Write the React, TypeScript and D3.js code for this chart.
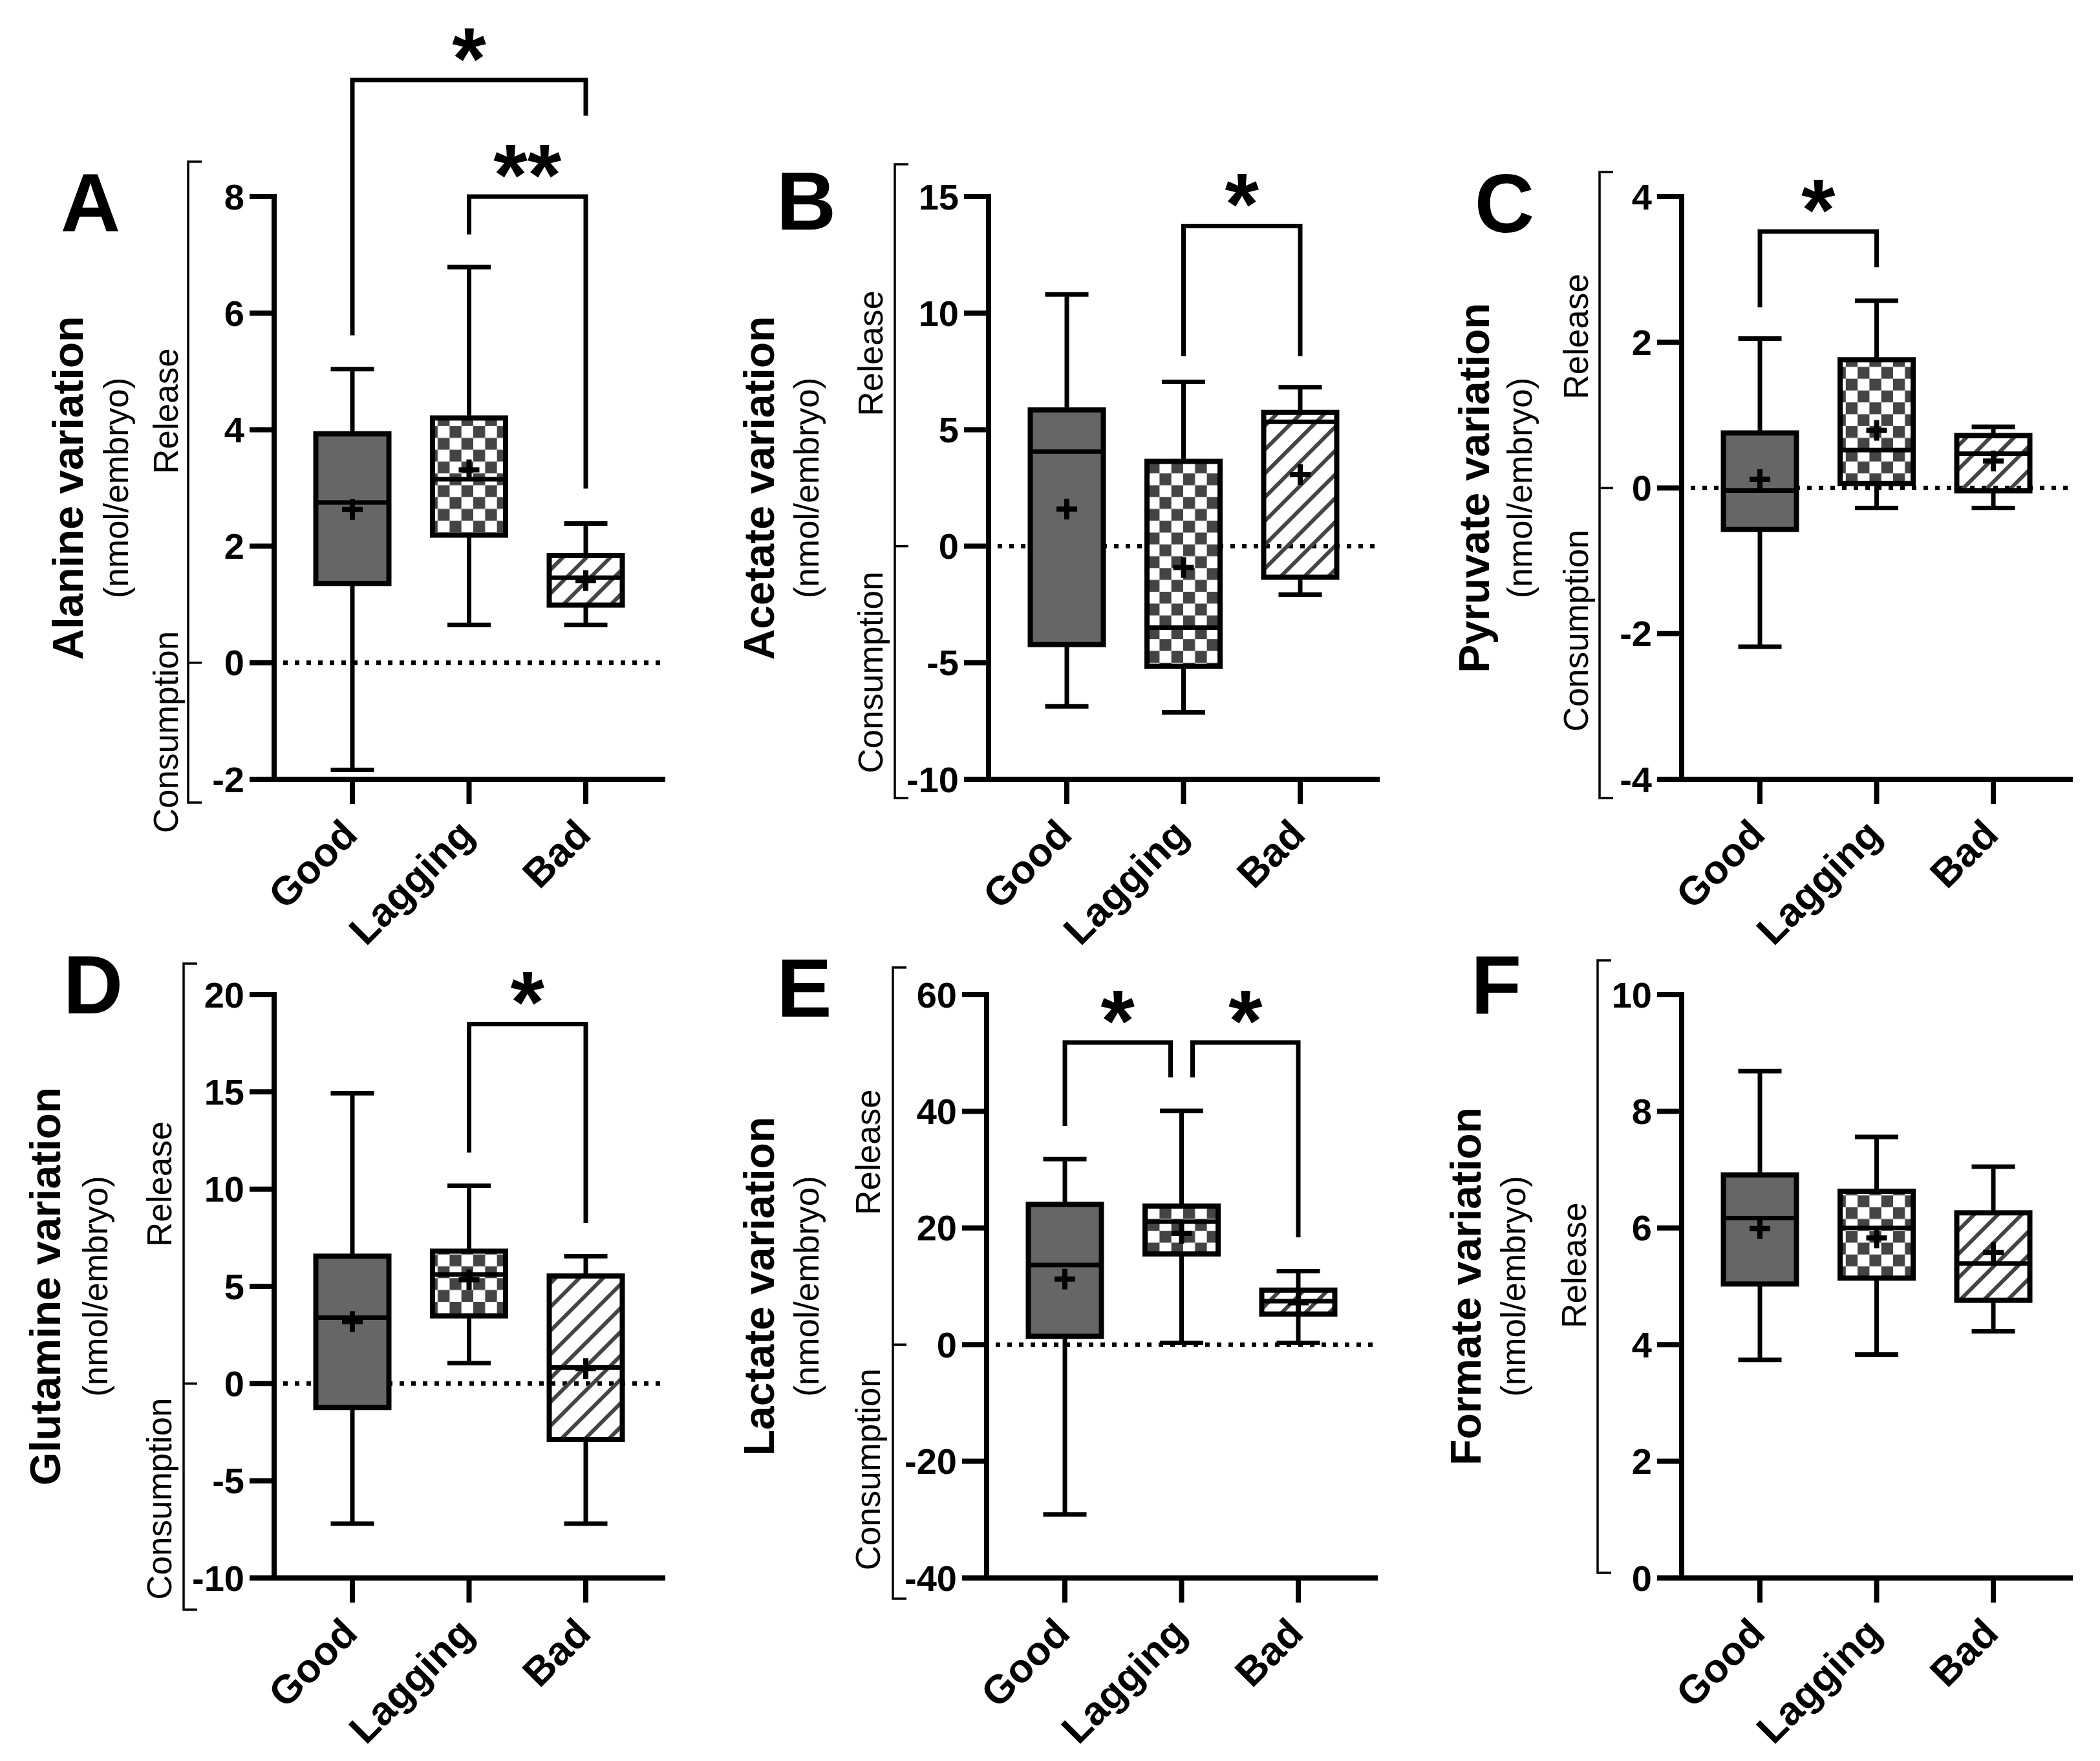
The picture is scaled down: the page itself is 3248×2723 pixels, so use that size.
import * as d3 from "d3"

const W = 3248
const H = 2723
const FONT = "Liberation Sans, Arial, Helvetica, sans-serif"

const groups = ["Good", "Lagging", "Bad"]

// per group: [min, q1, median, q3, max, mean]
const alanine = [
  [-1.84, 1.36, 2.75, 3.93, 5.04, 2.63],
  [0.65, 2.19, 3.15, 4.2, 6.79, 3.31],
  [0.65, 0.99, 1.46, 1.84, 2.39, 1.41],
]
const acetate = [
  [-6.87, -4.22, 4.06, 5.85, 10.8, 1.59],
  [-7.13, -5.15, -3.49, 3.64, 7.05, -0.91],
  [-2.08, -1.33, 5.34, 5.74, 6.82, 3.07],
]
const pyruvate = [
  [-2.18, -0.57, -0.035, 0.755, 2.05, 0.12],
  [-0.275, 0.06, 0.52, 1.76, 2.57, 0.79],
  [-0.275, -0.04, 0.47, 0.72, 0.84, 0.37],
]
const glutamine = [
  [-7.21, -1.23, 3.39, 6.55, 14.93, 3.19],
  [1.05, 3.48, 5.61, 6.81, 10.17, 5.33],
  [-7.21, -2.88, 0.83, 5.53, 6.55, 0.77],
]
const lactate = [
  [-29.1, 1.43, 13.65, 24.05, 31.8, 11.26],
  [0.29, 15.55, 21.09, 23.76, 40.08, 19.08],
  [0.29, 5.25, 7.44, 9.35, 12.6, 7.16],
]
const formate = [
  [3.74, 5.04, 6.17, 6.91, 8.69, 5.99],
  [3.83, 5.14, 6.0, 6.63, 7.56, 5.83],
  [4.23, 4.76, 5.39, 6.26, 7.05, 5.58],
]

const alanineTicks = [-2, 0, 2, 4, 6, 8]
const acetateTicks = [-10, -5, 0, 5, 10, 15]
const pyruvateTicks = [-4, -2, 0, 2, 4]
const glutamineTicks = [-10, -5, 0, 5, 10, 15, 20]
const lactateTicks = [-40, -20, 0, 20, 40, 60]
const formateTicks = [0, 2, 4, 6, 8, 10]

// significance: [fromGroup, toGroup, barValue, leftLegEnd, rightLegEnd, label]
const alanineSig = [
  [0, 2, 10, 5.62, 9.39, "*"],
  [1, 2, 8, 7.35, 2.99, "**"],
]
const acetateSig = [[1, 2, 13.74, 8.15, 8.15, "*"]]
const pyruvateSig = [[0, 1, 3.52, 2.48, 3.03, "*"]]
const glutamineSig = [[1, 2, 18.49, 11.88, 8.26, "*"]]
const lactateSig = [
  [0, 1, 51.8, 37.5, 45.8, "*"],
  [1, 2, 51.8, 45.8, 18.4, "*"],
]
const formateSig: any[] = []

const panels = [
  { letter: "A", title: "Alanine variation", stats: alanine, ticks: alanineTicks, sig: alanineSig, release: 4.32, consumption: -1.19 },
  { letter: "B", title: "Acetate variation", stats: acetate, ticks: acetateTicks, sig: acetateSig, release: 8.28, consumption: -5.41 },
  { letter: "C", title: "Pyruvate variation", stats: pyruvate, ticks: pyruvateTicks, sig: pyruvateSig, release: 2.08, consumption: -1.96 },
  { letter: "D", title: "Glutamine variation", stats: glutamine, ticks: glutamineTicks, sig: glutamineSig, release: 10.26, consumption: -5.93 },
  { letter: "E", title: "Lactate variation", stats: lactate, ticks: lactateTicks, sig: lactateSig, release: 33.0, consumption: -21.4 },
  { letter: "F", title: "Formate variation", stats: formate, ticks: formateTicks, sig: formateSig, release: 5.36, consumption: null },
]

// page layout of each panel (pixels)
const layout = [
  { x0: 424, top: 304, bottom: 1205, titleDx: -319, unitsDx: -245, sideDx: -168, brDx: -133, brTop: 250, brBottom: 1241, letterDx: -284, letterDy: 8 },
  { x0: 1529, top: 304, bottom: 1205, titleDx: -355, unitsDx: -282, sideDx: -183, brDx: -145, brTop: 254, brBottom: 1234, letterDx: -282, letterDy: 5 },
  { x0: 2601, top: 304, bottom: 1205, titleDx: -321, unitsDx: -251, sideDx: -164, brDx: -127, brTop: 266, brBottom: 1234, letterDx: -274, letterDy: 9 },
  { x0: 424, top: 1538, bottom: 2440, titleDx: -354, unitsDx: -277, sideDx: -178, brDx: -140, brTop: 1490, brBottom: 2489, letterDx: -280, letterDy: -17 },
  { x0: 1526, top: 1538, bottom: 2440, titleDx: -352, unitsDx: -279, sideDx: -184, brDx: -145, brTop: 1496, brBottom: 2472, letterDx: -282, letterDy: -12 },
  { x0: 2601, top: 1538, bottom: 2440, titleDx: -334, unitsDx: -261, sideDx: -167, brDx: -130, brTop: 1485, brBottom: 2432, letterDx: -287, letterDy: -17 },
]

const fills = ["#666666", "url(#checker)", "url(#hatch)"]

function Panel({ p, l }: { p: any; l: any }) {
  const ticks: number[] = p.ticks
  const y = d3.scaleLinear().domain([ticks[0], ticks[ticks.length - 1]]).range([l.bottom, l.top])
  const x = d3.scalePoint<string>().domain(groups).range([l.x0 + 121, l.x0 + 482])
  const xEnd = l.x0 + 601
  const boxW = 113
  const capW = 67
  const mid = (l.top + l.bottom) / 2
  const hasZero = ticks[0] < 0
  const brX = l.x0 + l.brDx

  return (
    <g>
      {/* panel letter */}
      <text x={l.x0 + l.letterDx} y={l.top + l.letterDy + 46} textAnchor="middle" fontSize={128} fontWeight="bold" fontFamily={FONT}>
        {p.letter}
      </text>

      {/* titles */}
      <text transform={`translate(${l.x0 + l.titleDx},${mid}) rotate(-90)`} textAnchor="middle" dominantBaseline="central" fontSize={66} fontWeight="bold" fontFamily={FONT}>
        {p.title}
      </text>
      <text transform={`translate(${l.x0 + l.unitsDx},${mid}) rotate(-90)`} textAnchor="middle" dominantBaseline="central" fontSize={53} fontFamily={FONT}>
        (nmol/embryo)
      </text>
      <text transform={`translate(${l.x0 + l.sideDx},${y(p.release)}) rotate(-90)`} textAnchor="middle" dominantBaseline="central" fontSize={53} fontFamily={FONT}>
        Release
      </text>
      {p.consumption !== null && (
        <text transform={`translate(${l.x0 + l.sideDx},${y(p.consumption)}) rotate(-90)`} textAnchor="middle" dominantBaseline="central" fontSize={53} fontFamily={FONT}>
          Consumption
        </text>
      )}

      {/* release / consumption bracket */}
      <g stroke="#000" strokeWidth={3.5} fill="none">
        <path d={`M${brX + 21},${l.brTop}H${brX}V${l.brBottom}H${brX + 21}`} />
        {hasZero && <line x1={brX} x2={brX + 21} y1={y(0)} y2={y(0)} />}
      </g>

      {/* zero line */}
      {hasZero && (
        <line x1={l.x0 + 14} x2={xEnd} y1={y(0)} y2={y(0)} stroke="#000" strokeWidth={7} strokeDasharray="7 11" />
      )}

      {/* boxes */}
      {p.stats.map((s: number[], i: number) => {
        const cx = x(groups[i])!
        const [mn, q1, md, q3, mx, mean] = s
        return (
          <g key={i} stroke="#000">
            <line x1={cx} x2={cx} y1={y(mx)} y2={y(q3)} strokeWidth={7} />
            <line x1={cx} x2={cx} y1={y(q1)} y2={y(mn)} strokeWidth={7} />
            <line x1={cx - capW / 2} x2={cx + capW / 2} y1={y(mx)} y2={y(mx)} strokeWidth={7} />
            <line x1={cx - capW / 2} x2={cx + capW / 2} y1={y(mn)} y2={y(mn)} strokeWidth={7} />
            <rect x={cx - boxW / 2} y={y(q3)} width={boxW} height={y(q1) - y(q3)} fill={fills[i]} strokeWidth={8} />
            <line x1={cx - boxW / 2} x2={cx + boxW / 2} y1={y(md)} y2={y(md)} strokeWidth={7} />
            <path d={`M${cx - 16},${y(mean)}H${cx + 16}M${cx},${y(mean) - 16}V${y(mean) + 16}`} strokeWidth={8} />
          </g>
        )
      })}

      {/* axes */}
      <g stroke="#000" strokeWidth={8} strokeLinecap="square">
        <line x1={l.x0} x2={l.x0} y1={l.top} y2={l.bottom} />
        <line x1={l.x0} x2={xEnd} y1={l.bottom} y2={l.bottom} />
        {ticks.map((t) => (
          <line key={t} x1={l.x0 - 38} x2={l.x0} y1={y(t)} y2={y(t)} strokeLinecap="butt" />
        ))}
        {groups.map((g) => (
          <line key={g} x1={x(g)} x2={x(g)} y1={l.bottom} y2={l.bottom + 38} strokeLinecap="butt" />
        ))}
      </g>
      {ticks.map((t) => (
        <text key={t} x={l.x0 - 46} y={y(t)} textAnchor="end" dominantBaseline="central" fontSize={56} fontWeight="bold" fontFamily={FONT}>
          {String(t)}
        </text>
      ))}
      {groups.map((g) => (
        <text key={g} transform={`translate(${x(g)! + 11},${l.bottom + 89}) rotate(-45)`} textAnchor="end" fontSize={62} fontWeight="bold" fontFamily={FONT}>
          {g}
        </text>
      ))}

      {/* significance brackets */}
      {p.sig.map((s: any[], k: number) => {
        const [a, b, top, legA, legB, label] = s
        let xa = x(groups[a])!
        let xb = x(groups[b])!
        if (p.sig.some((o: any[]) => o !== s && o[0] === b)) xb -= 17
        if (p.sig.some((o: any[]) => o !== s && o[1] === a)) xa += 17
        const yt = y(top)
        return (
          <g key={k}>
            <path d={`M${xa},${y(legA)}V${yt}H${xb}V${y(legB)}`} fill="none" stroke="#000" strokeWidth={7} />
            <text x={(xa + xb) / 2} y={yt + 13} textAnchor="middle" fontSize={135} fontWeight="bold" fontFamily={FONT}>
              {label}
            </text>
          </g>
        )
      })}
    </g>
  )
}

export default function App() {
  return (
    <svg width={W} height={H} viewBox={`0 0 ${W} ${H}`} style={{ position: "absolute", left: 0, top: 0, background: "#fff" }}>
      <defs>
        <pattern id="checker" patternUnits="userSpaceOnUse" width={36.6} height={36.6}>
          <rect width={36.6} height={36.6} fill="#fff" />
          <rect x={0} y={0} width={18.3} height={18.3} fill="#444" />
          <rect x={18.3} y={18.3} width={18.3} height={18.3} fill="#444" />
        </pattern>
        <pattern id="hatch" patternUnits="userSpaceOnUse" width={26} height={26} patternTransform="rotate(45)">
          <rect x={0} y={0} width={6} height={26} fill="#444" />
        </pattern>
      </defs>
      <rect width={W} height={H} fill="#fff" />
      {panels.map((p, i) => (
        <Panel key={p.letter} p={p} l={layout[i]} />
      ))}
    </svg>
  )
}
